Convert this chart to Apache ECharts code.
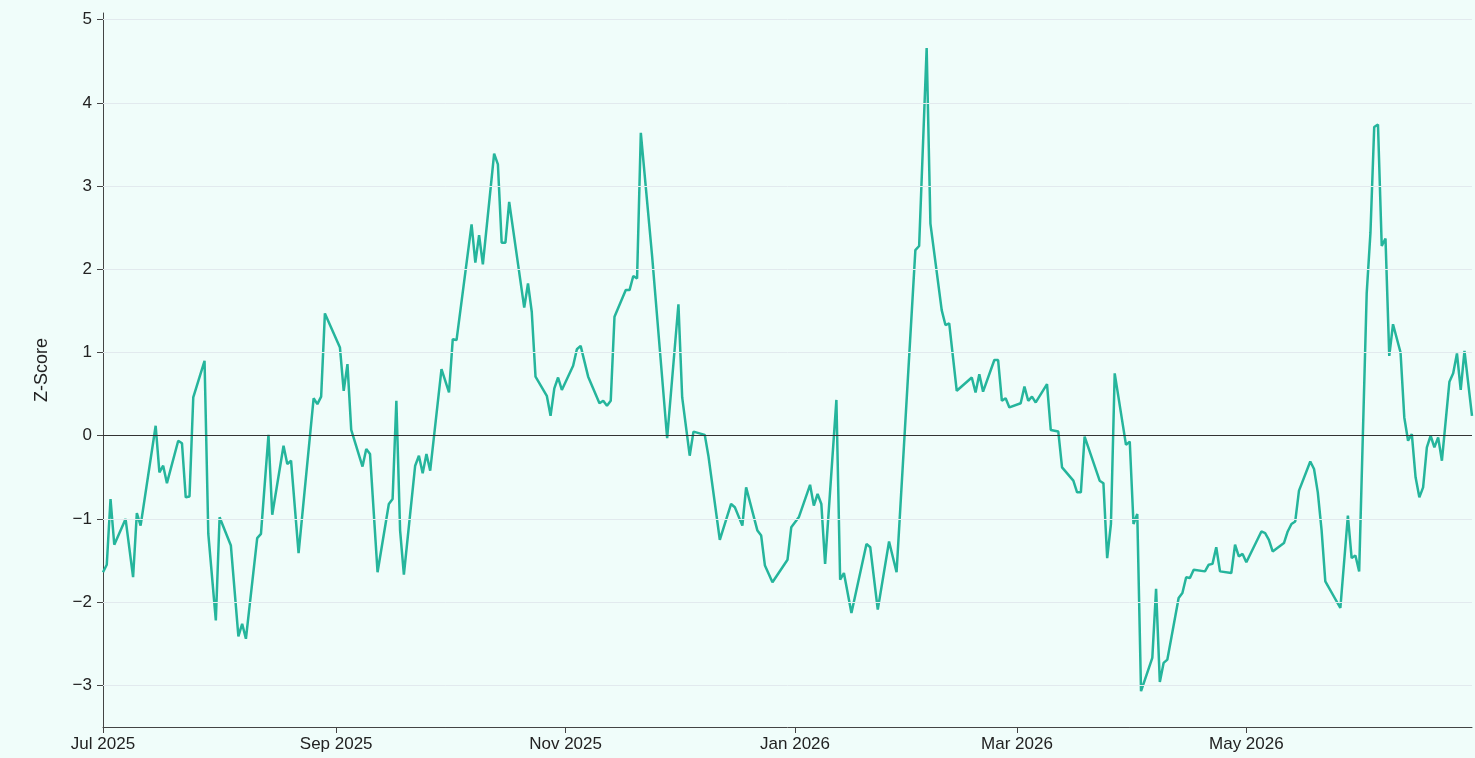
<!DOCTYPE html>
<html>
<head>
<meta charset="utf-8">
<script src="https://cdn.jsdelivr.net/npm/echarts@6/dist/echarts.min.js"></script>
<style>
  html, body { margin: 0; padding: 0; background: #f0fdfa; }
  #chart { width: 1475px; height: 758px; }
</style>
</head>
<body>
<div id="chart"></div>
<script>
const dates = [
  '2025-07-01','2025-07-02','2025-07-03','2025-07-04','2025-07-07','2025-07-09','2025-07-10','2025-07-11',
  '2025-07-15','2025-07-16','2025-07-17','2025-07-18','2025-07-21','2025-07-22','2025-07-23','2025-07-24',
  '2025-07-25','2025-07-28','2025-07-29','2025-07-31','2025-08-01','2025-08-04','2025-08-06','2025-08-07',
  '2025-08-08','2025-08-11','2025-08-12','2025-08-14','2025-08-15','2025-08-18','2025-08-19','2025-08-20',
  '2025-08-22','2025-08-26','2025-08-27','2025-08-28','2025-08-29','2025-09-02','2025-09-03','2025-09-04',
  '2025-09-05','2025-09-08','2025-09-09','2025-09-10','2025-09-12','2025-09-15','2025-09-16','2025-09-17',
  '2025-09-18','2025-09-19','2025-09-22','2025-09-23','2025-09-24','2025-09-25','2025-09-26','2025-09-29',
  '2025-10-01','2025-10-02','2025-10-03','2025-10-07','2025-10-08','2025-10-09','2025-10-10','2025-10-13',
  '2025-10-14','2025-10-15','2025-10-16','2025-10-17','2025-10-21','2025-10-22','2025-10-23','2025-10-24',
  '2025-10-27','2025-10-28','2025-10-29','2025-10-30','2025-10-31','2025-11-03','2025-11-04','2025-11-05',
  '2025-11-07','2025-11-10','2025-11-11','2025-11-12','2025-11-13','2025-11-14','2025-11-17','2025-11-18',
  '2025-11-19','2025-11-20','2025-11-21','2025-11-24','2025-11-28','2025-12-01','2025-12-02','2025-12-04',
  '2025-12-05','2025-12-08','2025-12-09','2025-12-12','2025-12-15','2025-12-16','2025-12-18','2025-12-19',
  '2025-12-22','2025-12-23','2025-12-24','2025-12-26','2025-12-30','2025-12-31','2026-01-02','2026-01-05',
  '2026-01-06','2026-01-07','2026-01-08','2026-01-09','2026-01-12','2026-01-13','2026-01-14','2026-01-16',
  '2026-01-20','2026-01-21','2026-01-23','2026-01-26','2026-01-28','2026-02-02','2026-02-03','2026-02-05',
  '2026-02-06','2026-02-09','2026-02-10','2026-02-11','2026-02-13','2026-02-17','2026-02-18','2026-02-19',
  '2026-02-20','2026-02-23','2026-02-24','2026-02-25','2026-02-26','2026-02-27','2026-03-02','2026-03-03',
  '2026-03-04','2026-03-05','2026-03-06','2026-03-09','2026-03-10','2026-03-12','2026-03-13','2026-03-16',
  '2026-03-17','2026-03-18','2026-03-19','2026-03-23','2026-03-24','2026-03-25','2026-03-26','2026-03-27',
  '2026-03-30','2026-03-31','2026-04-01','2026-04-02','2026-04-03','2026-04-06','2026-04-07','2026-04-08',
  '2026-04-09','2026-04-10','2026-04-13','2026-04-14','2026-04-15','2026-04-16','2026-04-17','2026-04-20',
  '2026-04-21','2026-04-22','2026-04-23','2026-04-24','2026-04-27','2026-04-28','2026-04-29','2026-04-30',
  '2026-05-01','2026-05-05','2026-05-06','2026-05-07','2026-05-08','2026-05-11','2026-05-12','2026-05-13',
  '2026-05-14','2026-05-15','2026-05-18','2026-05-19','2026-05-20','2026-05-21','2026-05-22','2026-05-26',
  '2026-05-28','2026-05-29','2026-05-30','2026-05-31','2026-06-02','2026-06-03','2026-06-04','2026-06-05',
  '2026-06-06','2026-06-07','2026-06-08','2026-06-09','2026-06-11','2026-06-12','2026-06-13','2026-06-14',
  '2026-06-15','2026-06-16','2026-06-17','2026-06-18','2026-06-19','2026-06-20','2026-06-21','2026-06-22',
  '2026-06-24','2026-06-25','2026-06-26','2026-06-27','2026-06-28','2026-06-30'
];
const zscores = [
  -1.64,-1.55,-0.76,-1.31,-1.00,-1.70,-0.93,-1.08,
  0.12,-0.44,-0.36,-0.57,-0.06,-0.09,-0.74,-0.73,
  0.46,0.90,-1.18,-2.22,-0.98,-1.32,-2.41,-2.26,
  -2.44,-1.23,-1.18,0.01,-0.95,-0.12,-0.34,-0.30,
  -1.41,0.45,0.38,0.47,1.47,1.06,0.54,0.86,
  0.07,-0.37,-0.16,-0.22,-1.64,-0.82,-0.76,0.42,
  -1.14,-1.67,-0.36,-0.24,-0.45,-0.22,-0.42,0.80,
  0.52,1.16,1.15,2.54,2.08,2.41,2.06,3.39,
  3.26,2.32,2.32,2.81,1.54,1.83,1.49,0.71,
  0.48,0.24,0.57,0.70,0.55,0.84,1.04,1.08,
  0.71,0.39,0.42,0.36,0.42,1.43,1.75,1.75,
  1.92,1.89,3.64,2.16,-0.03,1.58,0.46,-0.24,
  0.05,0.01,-0.25,-1.25,-0.82,-0.86,-1.08,-0.62,
  -1.14,-1.20,-1.56,-1.76,-1.49,-1.10,-0.98,-0.59,
  -0.84,-0.70,-0.82,-1.54,0.43,-1.73,-1.65,-2.13,
  -1.30,-1.34,-2.09,-1.27,-1.64,2.23,2.28,4.66,
  2.55,1.51,1.33,1.35,0.54,0.70,0.52,0.74,
  0.53,0.91,0.91,0.42,0.45,0.34,0.39,0.59,
  0.42,0.47,0.40,0.62,0.07,0.05,-0.38,-0.54,
  -0.68,-0.68,-0.01,-0.54,-0.57,-1.47,-1.06,0.75,
  -0.11,-0.07,-1.06,-0.94,-3.07,-2.67,-1.84,-2.96,
  -2.73,-2.69,-1.95,-1.89,-1.70,-1.71,-1.61,-1.63,
  -1.55,-1.54,-1.34,-1.63,-1.65,-1.31,-1.45,-1.42,
  -1.52,-1.15,-1.17,-1.25,-1.39,-1.29,-1.15,-1.06,
  -1.03,-0.66,-0.31,-0.40,-0.68,-1.13,-1.75,-2.07,
  -0.96,-1.47,-1.44,-1.63,1.71,2.44,3.71,3.74,
  2.28,2.37,0.96,1.34,1.00,0.22,-0.06,0.02,
  -0.50,-0.74,-0.62,-0.14,0.00,-0.14,-0.02,-0.30,
  0.65,0.75,0.99,0.55,1.02,0.24
];
const xTickDates = ['2025-07-01','2025-09-01','2025-11-01','2026-01-01','2026-03-01','2026-05-01'];
const xRange = ['2025-07-01', '2026-06-30'];
const yTickValues = [-3,-2,-1,0,1,2,3,4,5];
const yRange = [-3.5, 5.08];
const monthNames = ['Jan','Feb','Mar','Apr','May','Jun','Jul','Aug','Sep','Oct','Nov','Dec'];

function toTs(s) {
  const p = s.split('-').map(Number);
  return new Date(p[0], p[1] - 1, p[2]).getTime();
}
const seriesData = dates.map((d, i) => [toTs(d), zscores[i]]);
const xTicks = xTickDates.map(toTs);

const FONT = '"Liberation Sans", Arial, Helvetica, sans-serif';
const chart = echarts.init(document.getElementById('chart'), null, { renderer: 'canvas' });
chart.setOption({
  backgroundColor: '#f0fdfa',
  animation: false,
  grid: { left: 103, right: 3, top: 13, bottom: 31, containLabel: false },
  xAxis: {
    type: 'value',
    min: toTs(xRange[0]),
    max: toTs(xRange[1]),
    axisLine: { show: true, onZero: false, lineStyle: { color: '#444', width: 1 } },
    axisTick: { show: true, length: 6, customValues: xTicks, lineStyle: { color: '#444' } },
    axisLabel: {
      customValues: xTicks,
      margin: 9,
      fontSize: 17,
      fontFamily: FONT,
      color: '#222',
      hideOverlap: false,
      formatter: function (v) {
        const d = new Date(v);
        return monthNames[d.getMonth()] + ' ' + d.getFullYear();
      }
    },
    splitLine: { show: false }
  },
  yAxis: {
    type: 'value',
    min: yRange[0],
    max: yRange[1],
    name: 'Z-Score',
    nameLocation: 'middle',
    nameGap: 52,
    nameTextStyle: { fontSize: 18, fontFamily: FONT, color: '#222' },
    axisLine: { show: true, lineStyle: { color: '#444', width: 1 } },
    axisTick: { show: true, length: 6, customValues: yTickValues, lineStyle: { color: '#444' } },
    axisLabel: {
      customValues: yTickValues,
      margin: 11,
      fontSize: 17,
      fontFamily: FONT,
      color: '#222',
      formatter: function (v) { return v < 0 ? '\u2212' + Math.abs(v) : String(v); }
    },
    splitLine: { show: false }
  },
  series: [{
    type: 'line',
    data: seriesData,
    showSymbol: false,
    symbol: 'none',
    lineStyle: { color: '#25b59c', width: 2.5 },
    itemStyle: { color: '#25b59c' },
    markLine: {
      silent: true,
      symbol: 'none',
      label: { show: false },
      data: yTickValues.map(v => ({
        yAxis: v,
        lineStyle: v === 0
          ? { color: '#333', width: 1.2, type: 'solid' }
          : { color: '#e2eaee', width: 1, type: 'solid' }
      }))
    },
    z: 3
  }]
});
</script>
</body>
</html>
